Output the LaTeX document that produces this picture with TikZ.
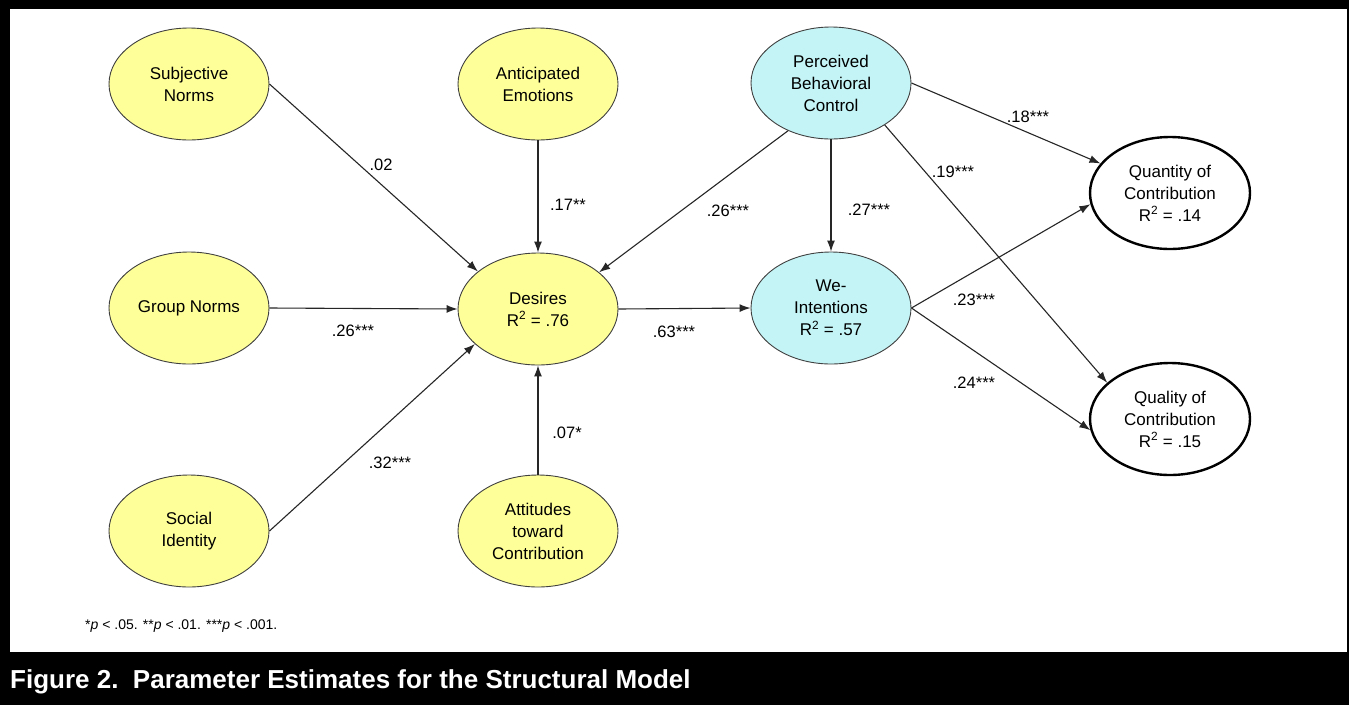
\documentclass[tikz,border=0pt]{standalone}
\usepackage{fontspec}
\setmainfont{Liberation Sans}
\usetikzlibrary{shapes.geometric,arrows.meta}
\definecolor{ylw}{RGB}{255,255,153}
\definecolor{cyn}{RGB}{196,244,246}
\begin{document}
\begin{tikzpicture}[x=1pt,y=-1pt,
  lat/.style={ellipse, draw=black!75, line width=0.9pt, minimum width=160pt, minimum height=112pt, inner sep=0pt, align=center, font=\fontsize{17}{22}\selectfont},
  yel/.style={lat, fill=ylw},
  cya/.style={lat, fill=cyn},
  outc/.style={lat, draw=black, fill=white, line width=2.4pt},
  pth/.style={draw=black!85, line width=1.1pt, -{Latex[length=11pt,width=8pt]}},
  coef/.style={font=\fontsize{16.5}{20}\selectfont, inner sep=0pt}
]
\fill[black] (0,0) rectangle (1349,705);
\fill[white] (10,9) rectangle (1347,652);
\useasboundingbox (0,0) rectangle (1349,705);

\node[yel] (SN) at (189,84) {Subjective\\Norms};
\node[yel] (AE) at (538,84) {Anticipated\\Emotions};
\node[cya] (PBC) at (831,83) {Perceived\\Behavioral\\Control};
\node[yel] (GN) at (189,308) {Group Norms};
\node[yel] (D) at (538,309) {Desires\\R\textsuperscript{2} = .76};
\node[cya] (WI) at (831,308) {We-\\Intentions\\R\textsuperscript{2} = .57};
\node[yel] (SI) at (189,531) {Social\\Identity};
\node[yel] (ATT) at (538,531) {Attitudes\\toward\\Contribution};
\node[outc] (QN) at (1170,193) {Quantity of\\Contribution\\R\textsuperscript{2} = .14};
\node[outc] (QL) at (1170,419) {Quality of\\Contribution\\R\textsuperscript{2} = .15};

\draw[pth] (SN.east) -- (D.148);
\draw[pth] (AE.south) -- (D.north);
\draw[pth] (PBC.228) -- (D.31);
\draw[pth] (PBC.south) -- (WI.north);
\draw[pth] (PBC.east) -- (QN.157);
\draw[pth] (PBC.322) -- (QL.150);
\draw[pth] (GN.east) -- (D.west);
\draw[pth] (D.east) -- (WI.west);
\draw[pth] (SI.east) -- (D.209);
\draw[pth] (ATT.north) -- (D.south);
\draw[pth] (WI.east) -- (QN.188);
\draw[pth] (WI.east) -- (QL.188);

\node[coef] (c1) at (381,165) {.02};
\node[coef] (c2) at (568,205) {.17**};
\node[coef] (c3) at (728,211) {.26***};
\node[coef] (c4) at (869,210) {.27***};
\node[coef] (c5) at (1028,117) {.18***};
\node[coef] (c6) at (953,172) {.19***};
\node[coef] (c7) at (353,331) {.26***};
\node[coef] (c8) at (674,332) {.63***};
\node[coef] (c9) at (390,463) {.32***};
\node[coef] (c10) at (567,433) {.07*};
\node[coef] (c11) at (974,300) {.23***};
\node[coef] (c12) at (974,383) {.24***};

\node[anchor=west, inner sep=0pt, font=\fontsize{14}{17}\selectfont] (note) at (85,626) {*\textit{p} < .05. **\textit{p} < .01. ***\textit{p} < .001.};
\node[anchor=base west, inner sep=0pt, text=white, font=\fontsize{26}{30}\selectfont\bfseries] (cap) at (10,688) {Figure 2.\ \ Parameter Estimates for the Structural Model};
\end{tikzpicture}
\end{document}
